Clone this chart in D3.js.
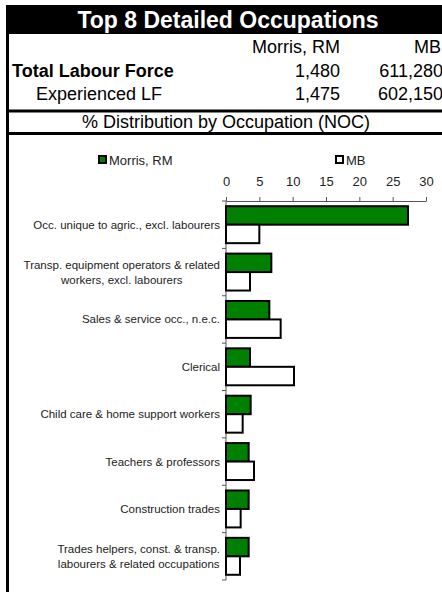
<!DOCTYPE html>
<html>
<head>
<meta charset="utf-8">
<script src="https://cdn.jsdelivr.net/npm/d3@7"></script>
<style>
  body { margin: 0; background: #fff; }
  text { font-family: Arial, "Liberation Sans", sans-serif; }
</style>
</head>
<body>
<div id="chart"></div>
<script>
// header table
var title = "Top 8 Detailed Occupations";
var areas = ["Morris, RM", "MB"];
var labourRows = ["Total Labour Force", "Experienced LF"];
var totalLF = ["1,480", "611,280"];
var experiencedLF = ["1,475", "602,150"];
var subTitle = "% Distribution by Occupation (NOC)";

// chart data
var categories = [
	["Occ. unique to agric., excl. labourers"],
	["Transp. equipment operators & related", "workers, excl. labourers"],
	["Sales & service occ., n.e.c."],
	["Clerical"],
	["Child care & home support workers"],
	["Teachers & professors"],
	["Construction trades"],
	["Trades helpers, const. & transp.", "labourers & related occupations"]
];
var morrisValues = [27.3, 6.8, 6.5, 3.6, 3.7, 3.4, 3.4, 3.4];
var mbValues = [5.0, 3.6, 8.2, 10.2, 2.5, 4.2, 2.2, 2.1];
var xTicks = [0, 5, 10, 15, 20, 25, 30];

var W = 442, H = 592;

var svg = d3.select("#chart")
	.append("svg")
	.attr("width", W)
	.attr("height", H);

// title bar
svg.append("rect")
	.attr("x", 6).attr("y", 5)
	.attr("width", W - 6).attr("height", 29)
	.attr("fill", "#000");
svg.append("text")
	.attr("x", 228).attr("y", 28)
	.attr("text-anchor", "middle")
	.attr("fill", "#fff")
	.style("font-size", "23px")
	.style("font-weight", "bold")
	.text(title);

// left border
svg.append("rect")
	.attr("x", 6).attr("y", 5)
	.attr("width", 3).attr("height", H - 5)
	.attr("fill", "#000");

// header rows
svg.append("text").attr("x", 340).attr("y", 53)
	.attr("text-anchor", "end").style("font-size", "18px").text(areas[0]);
svg.append("text").attr("x", 441).attr("y", 53)
	.attr("text-anchor", "end").style("font-size", "18px").text(areas[1]);

svg.append("text").attr("x", 12).attr("y", 77)
	.style("font-size", "18px").style("font-weight", "bold").text(labourRows[0]);
svg.append("text").attr("x", 340).attr("y", 77)
	.attr("text-anchor", "end").style("font-size", "18px").text(totalLF[0]);
svg.append("text").attr("x", 443).attr("y", 77)
	.attr("text-anchor", "end").style("font-size", "18px").text(totalLF[1]);

svg.append("text").attr("x", 36).attr("y", 100)
	.style("font-size", "18px").text(labourRows[1]);
svg.append("text").attr("x", 340).attr("y", 100)
	.attr("text-anchor", "end").style("font-size", "18px").text(experiencedLF[0]);
svg.append("text").attr("x", 443).attr("y", 100)
	.attr("text-anchor", "end").style("font-size", "18px").text(experiencedLF[1]);

// separator lines
svg.append("rect").attr("x", 6).attr("y", 109.5)
	.attr("width", W - 6).attr("height", 3).attr("fill", "#000");
svg.append("text").attr("x", 226).attr("y", 128)
	.attr("text-anchor", "middle").style("font-size", "18px").text(subTitle);
svg.append("rect").attr("x", 6).attr("y", 132)
	.attr("width", W - 6).attr("height", 3).attr("fill", "#000");

// legend
var legend = [
	{ name: areas[0], fill: "#008000", x: 98 },
	{ name: areas[1], fill: "#fff", x: 335 }
];
legend.forEach(function(l) {
	svg.append("rect")
		.attr("x", l.x + 1).attr("y", 156)
		.attr("width", 7).attr("height", 7)
		.attr("fill", l.fill)
		.attr("stroke", "#000")
		.attr("stroke-width", 2);
	svg.append("text")
		.attr("x", l.x + 11).attr("y", 164.5)
		.style("font-size", "13px")
		.attr("fill", "#222")
		.text(l.name);
});

// scales
var x = d3.scaleLinear().domain([0, 30]).range([226, 426]);
var y = d3.scaleBand()
	.domain(d3.range(categories.length))
	.range([201, 580])
	.paddingInner(0.22)
	.paddingOuter(0.11);
var ySub = d3.scaleBand()
	.domain([0, 1])
	.range([0, y.bandwidth()]);

// x axis on top
var xAxis = svg.append("g")
	.attr("transform", "translate(0,201)")
	.call(d3.axisTop(x).tickValues(xTicks).tickSize(4).tickPadding(11).tickSizeOuter(0));
xAxis.select(".domain").attr("stroke", "#555");
xAxis.selectAll(".tick line").attr("stroke", "#555");
xAxis.selectAll("text")
	.attr("fill", "#222")
	.style("font-size", "13px")
	.style("font-family", "Arial, 'Liberation Sans', sans-serif");

// category axis line and boundary ticks
svg.append("line")
	.attr("x1", x(0)).attr("x2", x(0))
	.attr("y1", y.range()[0]).attr("y2", y.range()[1])
	.attr("stroke", "#555");
var bounds = d3.range(categories.length + 1).map(function(i) { return y.range()[0] + i * y.step(); });
svg.selectAll(".btick")
	.data(bounds)
	.enter().append("line")
	.attr("x1", x(0) - 4).attr("x2", x(0))
	.attr("y1", function(d) { return d; })
	.attr("y2", function(d) { return d; })
	.attr("stroke", "#555");

// bars
var series = [
	{ values: morrisValues, fill: "#008000" },
	{ values: mbValues, fill: "#fff" }
];
series.forEach(function(s, si) {
	svg.selectAll(".bar" + si)
		.data(s.values)
		.enter().append("rect")
		.attr("x", x(0))
		.attr("y", function(d, i) { return y(i) + ySub(si); })
		.attr("width", function(d) { return x(d) - x(0); })
		.attr("height", ySub.bandwidth())
		.attr("fill", s.fill)
		.attr("stroke", "#000")
		.attr("stroke-width", 2);
});

// category labels
categories.forEach(function(lines, i) {
	var cy = y(i) + y.bandwidth() / 2;
	var t = svg.append("text")
		.attr("text-anchor", "middle")
		.attr("fill", "#222")
		.style("font-size", "11.5px");
	var first = cy + 4 - (lines.length - 1) * 7.5;
	lines.forEach(function(line, k) {
		t.append("tspan")
			.attr("x", 0)
			.attr("y", first + k * 15)
			.text(line);
	});
	// right align the whole block at x = 220, lines centred in it
	var w = 0;
	t.selectAll("tspan").each(function() { w = Math.max(w, this.getComputedTextLength()); });
	t.selectAll("tspan").attr("x", 220 - w / 2);
});
</script>
</body>
</html>
